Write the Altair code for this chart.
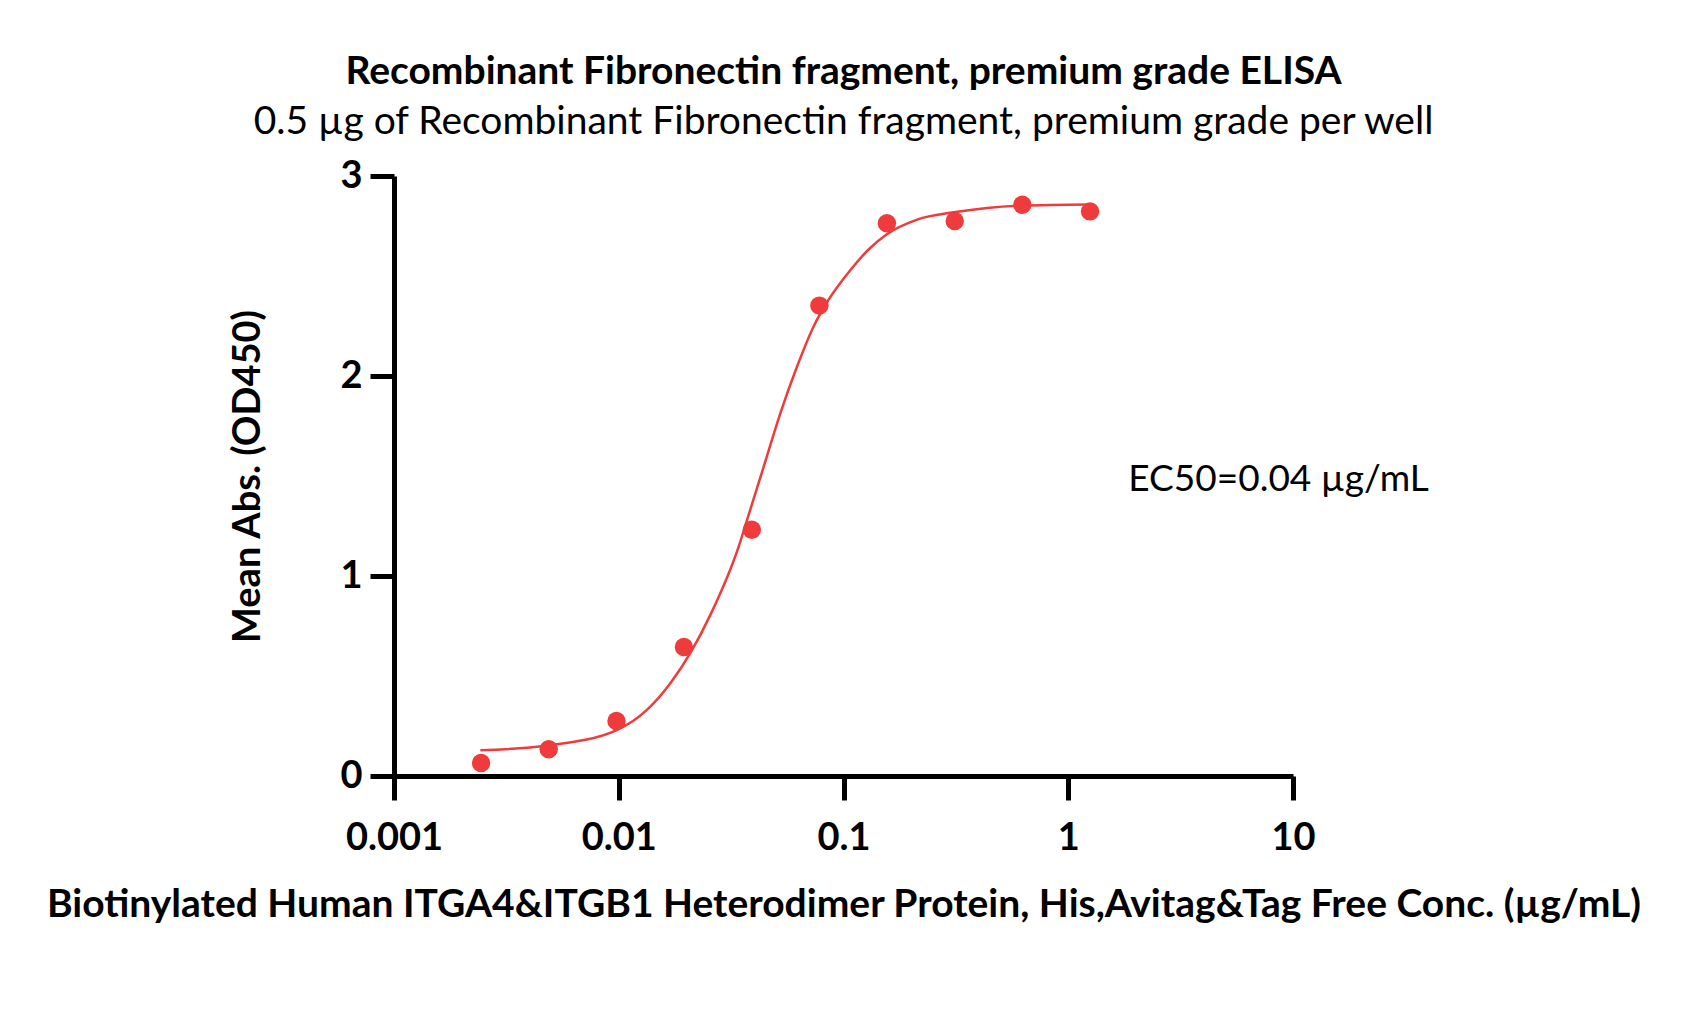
import altair as alt
import pandas as pd

# Measured points (concentration in µg/mL, mean OD450)
conc = [0.00244, 0.00488, 0.00977, 0.0195, 0.0391, 0.0781, 0.156, 0.3125, 0.625, 1.25]
od = [0.065, 0.134, 0.275, 0.645, 1.231, 2.352, 2.764, 2.775, 2.856, 2.823]

# Fitted curve
curve_x = [0.002423, 0.0048, 0.00974, 0.01338, 0.017, 0.02084, 0.0256, 0.0342, 0.03727,
           0.0442, 0.05244, 0.0622, 0.0738, 0.0846, 0.1074, 0.13, 0.1565, 0.2128, 0.3097,
           0.436, 0.6241, 1.25]
curve_y = [0.1285, 0.152, 0.2285, 0.332, 0.4655, 0.6155, 0.807, 1.1485, 1.282,
           1.5485, 1.8155, 2.0485, 2.25, 2.37, 2.53, 2.635, 2.71, 2.782, 2.8185,
           2.8405, 2.852, 2.858]

# Annotation
ann_x = [1.85]
ann_y = [1.48]
ann_text = ["EC50=0.04 µg/mL"]

x_ticks = [0.001, 0.01, 0.1, 1, 10]
y_ticks = [0, 1, 2, 3]

RED = "#EF3B3B"
FONT = "Lato"

points = pd.DataFrame({"x": conc, "y": od})
curve = pd.DataFrame({"x": curve_x, "y": curve_y})
ann = pd.DataFrame({"x": ann_x, "y": ann_y, "t": ann_text})

xscale = alt.Scale(type="log", domain=[0.001, 10], nice=False)
yscale = alt.Scale(domain=[0, 3], nice=False, zero=False)

xaxis = alt.Axis(
    title="Biotinylated Human ITGA4&ITGB1 Heterodimer Protein, His,Avitag&Tag Free Conc. (µg/mL)",
    values=x_ticks, format="~g", grid=False, labelPadding=19, titlePadding=28,
    labelFlush=False, titleFontSize=39,
)
yaxis = alt.Axis(
    title="Mean Abs. (OD450)", values=y_ticks, format="~g", grid=False,
    labelPadding=8, titlePadding=72, labelFlush=False, titleFontSize=38,
)

line = alt.Chart(curve).mark_line(color=RED, strokeWidth=2.5, interpolate="monotone").encode(
    x=alt.X("x:Q", scale=xscale, axis=xaxis),
    y=alt.Y("y:Q", scale=yscale, axis=yaxis),
)
dots = alt.Chart(points).mark_point(filled=True, color=RED, size=340, opacity=1).encode(
    x=alt.X("x:Q", scale=xscale),
    y=alt.Y("y:Q", scale=yscale),
)
text = alt.Chart(ann).mark_text(align="left", baseline="middle", font=FONT, fontSize=37,
                                color="black").encode(
    x=alt.X("x:Q", scale=xscale),
    y=alt.Y("y:Q", scale=yscale),
    text="t:N",
)

chart = alt.layer(line, dots, text).properties(
    width=899, height=600,
    background="white",
    title=alt.TitleParams(
        text="Recombinant Fibronectin fragment, premium grade ELISA",
        subtitle="0.5 µg of Recombinant Fibronectin fragment, premium grade per well",
        anchor="middle", font=FONT, fontSize=39, fontWeight="bold", color="black",
        subtitleFont=FONT, subtitleFontSize=39, subtitleColor="black",
        subtitlePadding=11, offset=15,
    ),
    autosize=alt.AutoSizeParams(type="none"),
    padding={"left": 394, "top": 176, "right": 393, "bottom": 247},
).configure_view(stroke=None).configure_axis(
    domainColor="black", domainWidth=5, tickColor="black", tickWidth=5, tickSize=24,
    labelFont=FONT, labelFontSize=38, labelFontWeight="bold", labelColor="black",
    titleFont=FONT, titleFontWeight="bold", titleColor="black",
)

chart.save("out.html", embed_options={"renderer": "svg", "actions": False})
